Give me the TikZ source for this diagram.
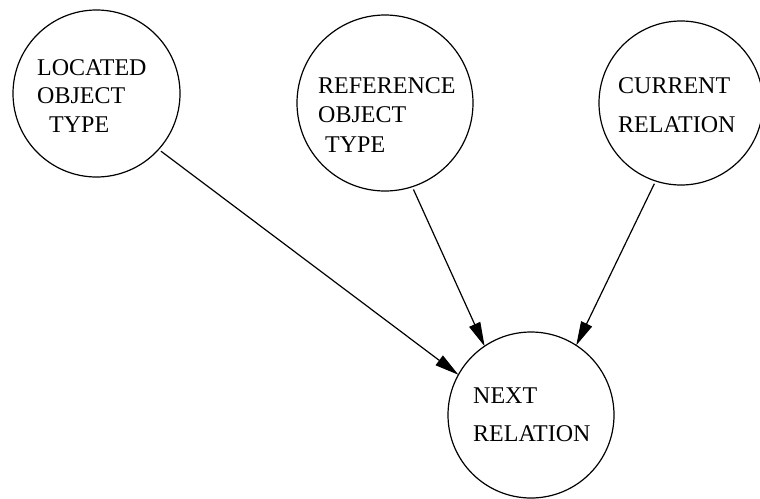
\documentclass[tikz,border=0pt]{standalone}
\usepackage{fontspec}
\setmainfont{Liberation Serif}
\usetikzlibrary{arrows.meta}
\begin{document}
\begin{tikzpicture}[x=1pt,y=-1pt,
  state/.style={circle,draw,line width=1.2pt,inner sep=0pt,outer sep=0pt},
  lbl/.style={anchor=base west,inner sep=0pt,font=\fontsize{24}{28}\selectfont},
  link/.style={line width=1.2pt,-{Triangle[length=24pt,width=12pt]},shorten <=3pt}]
\useasboundingbox (0,0) rectangle (760,498);

% states
\node[state,minimum size=167pt] (loc)  at (96.5,93.5) {};
\node[state,minimum size=176pt] (ref)  at (385,103)   {};
\node[state,minimum size=164pt] (cur)  at (681,103)   {};
\node[state,minimum size=166pt] (next) at (531,415)   {};

% labels inside the states
\node[lbl] (loc1) at (37,75)    {LOCATED};
\node[lbl] (loc2) at (37,103)   {OBJECT};
\node[lbl] (loc3) at (49,132)   {TYPE};
\node[lbl] (ref1) at (318,93)   {REFERENCE};
\node[lbl] (ref2) at (318,122)  {OBJECT};
\node[lbl] (ref3) at (325,152)  {TYPE};
\node[lbl] (cur1) at (618,93)   {CURRENT};
\node[lbl] (cur2) at (618,132)  {RELATION};
\node[lbl] (nxt1) at (473,403)  {NEXT};
\node[lbl] (nxt2) at (473,441)  {RELATION};

% dependencies
\draw[link] (loc.-42)  -- (next.151);
\draw[link] (ref.-72)  -- (next.124);
\draw[link] (cur.-108) -- (next.57);
\end{tikzpicture}
\end{document}
